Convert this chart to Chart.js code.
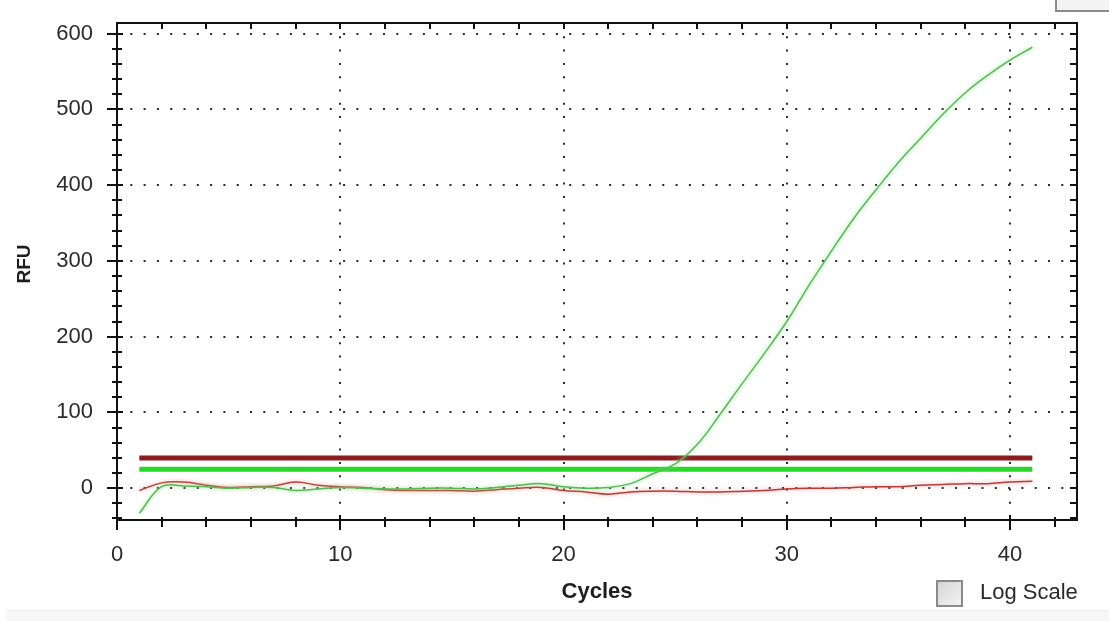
<!DOCTYPE html>
<html>
<head>
<meta charset="utf-8">
<title>RFU vs Cycles</title>
<script src="https://cdn.jsdelivr.net/npm/chart.js@4/dist/chart.umd.min.js"></script>
<style>
  html, body { margin: 0; padding: 0; background: #ffffff; }
  #wrap { position: relative; width: 1109px; height: 621px; overflow: hidden; font-family: "Liberation Sans", Arial, sans-serif; }
  canvas { position: absolute; left: 0; top: 0; }
  .corner-box { position: absolute; left: 1055px; top: -4px; width: 60px; height: 14px; border-left: 2px solid #8c8c8c; border-bottom: 2px solid #8c8c8c; background: #f3f3f3; }
  .footer-strip { position: absolute; left: 6px; right: 0; top: 610px; height: 11px; background: #f7f7f7; border-top: 1px solid #efefef; }
  .log-box { position: absolute; left: 936px; top: 580px; width: 23px; height: 23px; border: 2px solid #8a8a8a; background: linear-gradient(135deg, #d6d6d6, #f2f2f2); box-sizing: content-box; }
  .log-label { position: absolute; left: 980px; top: 581px; font-size: 22px; line-height: 22px; color: #2a2a2a; white-space: nowrap; }
</style>
</head>
<body>
<div id="wrap">
  <canvas id="chart" width="1109" height="621"></canvas>
  <div class="corner-box"></div>
  <div class="footer-strip"></div>
  <div class="log-box"></div>
  <div class="log-label">Log Scale</div>
</div>
<script>
// Cycle numbers
const cycles = [1, 2, 3, 4, 5, 6, 7, 8, 9, 10, 11, 12, 13, 14, 15, 16, 17, 18, 19, 20,
                21, 22, 23, 24, 25, 26, 27, 28, 29, 30, 31, 32, 33, 34, 35, 36, 37, 38, 39, 40, 41];

// Amplifying well (green trace), RFU per cycle
const ampCurve = [-33, 2, 3, 2, 0, 1, 1, -3, -1, 1, 0, -1, -1, 0, 0, -1, 1, 4, 6, 2,
                  0, 1, 6, 19, 32, 58, 97, 138, 178, 220, 268, 313, 356, 394, 430, 462, 494, 522, 545, 565, 582];

// Non-amplifying well (red trace), RFU per cycle
const baseCurve = [-3, 7, 8, 4, 1, 2, 3, 8, 4, 2, 1, -2, -3, -3, -3, -4, -2, 0, 1, -3,
                   -5, -8, -5, -4, -4, -5, -5, -4, -3, -1, 0, 0, 1, 2, 2, 4, 5, 6, 6, 8, 9];

// Threshold levels and the cycle span they are drawn over
const redThreshold = 40;
const greenThreshold = 25;
const thresholdSpan = [1, 41];

// Labelled axis ticks
const xTickLabels = [0, 10, 20, 30, 40];
const yTickLabels = [0, 100, 200, 300, 400, 500, 600];

// Axis ranges and minor tick steps
const xRange = [0, 43];
const yRange = [-42, 614];
const xMinorStep = 2;
const yMinorStep = 20;

const toPoints = (xs, ys) => xs.map((c, i) => ({ x: c, y: ys[i] }));
const flatLine = (level) => thresholdSpan.map(c => ({ x: c, y: level }));

const isMajorX = v => xTickLabels.includes(v);
const isMajorY = v => yTickLabels.includes(v);

// Tick positions: every multiple of the minor step inside the axis range
function stepTicks(range, step) {
  const out = [];
  for (let v = Math.ceil(range[0] / step) * step; v <= range[1]; v += step) out.push({ value: v });
  return out;
}

// Boxed frame with tick marks on all four sides
const framePlugin = {
  id: 'frame',
  afterDraw(chart) {
    const { ctx, chartArea: a, scales: { x, y } } = chart;
    ctx.save();
    ctx.strokeStyle = '#111111';
    ctx.lineWidth = 2;
    ctx.strokeRect(a.left, a.top, a.right - a.left, a.bottom - a.top);
    ctx.beginPath();
    x.ticks.forEach(t => {
      const px = Math.round(x.getPixelForValue(t.value));
      const major = isMajorX(t.value);
      ctx.moveTo(px, a.bottom - (major ? 5 : 3));
      ctx.lineTo(px, a.bottom + (major ? 10 : 7));
      ctx.moveTo(px, a.top);
      ctx.lineTo(px, a.top + 6);
    });
    y.ticks.forEach(t => {
      const py = Math.round(y.getPixelForValue(t.value));
      const major = isMajorY(t.value);
      ctx.moveTo(a.left - (major ? 10 : 5), py);
      ctx.lineTo(a.left + (major ? 6 : 5), py);
      ctx.moveTo(a.right, py);
      ctx.lineTo(a.right - 7, py);
    });
    ctx.stroke();

    // Vertical axis title
    ctx.fillStyle = '#1e1e1e';
    ctx.font = 'bold 19px "Liberation Sans", Arial, sans-serif';
    ctx.textAlign = 'center';
    ctx.textBaseline = 'middle';
    ctx.translate(25, 264);
    ctx.rotate(-Math.PI / 2);
    ctx.fillText('RFU', 0, 0);
    ctx.restore();
  }
};

// Soft halo around the thin traces
const haloPlugin = {
  id: 'halo',
  beforeDatasetDraw(chart, args) {
    const halo = chart.data.datasets[args.index].halo;
    if (!halo) return;
    chart.ctx.save();
    chart.ctx.shadowColor = halo;
    chart.ctx.shadowBlur = 4;
  },
  afterDatasetDraw(chart, args) {
    if (chart.data.datasets[args.index].halo) chart.ctx.restore();
  }
};

const tickFont = { family: '"Liberation Sans", Arial, sans-serif', size: 22 };
const titleFont = { family: '"Liberation Sans", Arial, sans-serif', size: 22, weight: 'bold' };

const noPadding = s => { s.paddingTop = 0; s.paddingBottom = 0; s.paddingLeft = 0; s.paddingRight = 0; };

new Chart(document.getElementById('chart'), {
  type: 'line',
  data: {
    datasets: [
      {
        label: 'Threshold (red)',
        data: flatLine(redThreshold),
        borderColor: 'rgb(140, 28, 32)',
        borderWidth: 5,
        pointRadius: 0,
        order: 3
      },
      {
        label: 'Threshold (green)',
        data: flatLine(greenThreshold),
        borderColor: 'rgb(40, 215, 40)',
        borderWidth: 5,
        pointRadius: 0,
        order: 3
      },
      {
        label: 'Red well',
        data: toPoints(cycles, baseCurve),
        borderColor: 'rgb(185, 60, 55)',
        borderWidth: 1.5,
        pointRadius: 0,
        tension: 0.4,
        halo: 'rgba(240, 130, 130, 0.8)',
        order: 2
      },
      {
        label: 'Green well',
        data: toPoints(cycles, ampCurve),
        borderColor: 'rgb(85, 185, 85)',
        borderWidth: 1.5,
        pointRadius: 0,
        tension: 0.4,
        halo: 'rgba(130, 235, 130, 0.9)',
        order: 1
      }
    ]
  },
  options: {
    responsive: false,
    animation: false,
    devicePixelRatio: 1,
    layout: { padding: { top: 23, right: 32, left: 0, bottom: 0 } },
    plugins: {
      legend: { display: false },
      tooltip: { enabled: false }
    },
    scales: {
      x: {
        type: 'linear',
        min: xRange[0],
        max: xRange[1],
        bounds: 'data',
        afterBuildTicks: s => { s.ticks = stepTicks(xRange, xMinorStep); },
        afterFit: s => { s.height = 101; noPadding(s); },
        ticks: {
          autoSkip: false,
          maxRotation: 0,
          padding: 22,
          color: '#2a2a2a',
          font: tickFont,
          callback: v => (isMajorX(v) ? String(v) : '')
        },
        grid: {
          drawTicks: false,
          lineWidth: 2,
          color: c => (c.tick && isMajorX(c.tick.value) ? '#2b2b2b' : 'rgba(0,0,0,0)')
        },
        border: { display: false, dash: [2, 11.3] },
        title: {
          display: true,
          text: 'Cycles',
          color: '#1e1e1e',
          font: titleFont,
          padding: { top: 0, bottom: 16 }
        }
      },
      y: {
        type: 'linear',
        min: yRange[0],
        max: yRange[1],
        bounds: 'data',
        afterBuildTicks: s => { s.ticks = stepTicks(yRange, yMinorStep); },
        afterFit: s => { s.width = 117; noPadding(s); },
        ticks: {
          autoSkip: false,
          padding: 24,
          color: '#2a2a2a',
          font: tickFont,
          callback: v => (isMajorY(v) ? String(v) : '')
        },
        grid: {
          drawTicks: false,
          lineWidth: 2,
          color: c => (c.tick && isMajorY(c.tick.value) ? '#2b2b2b' : 'rgba(0,0,0,0)')
        },
        border: { display: false, dash: [2, 11.3] },
        title: { display: false }
      }
    }
  },
  plugins: [framePlugin, haloPlugin]
});
</script>
</body>
</html>
